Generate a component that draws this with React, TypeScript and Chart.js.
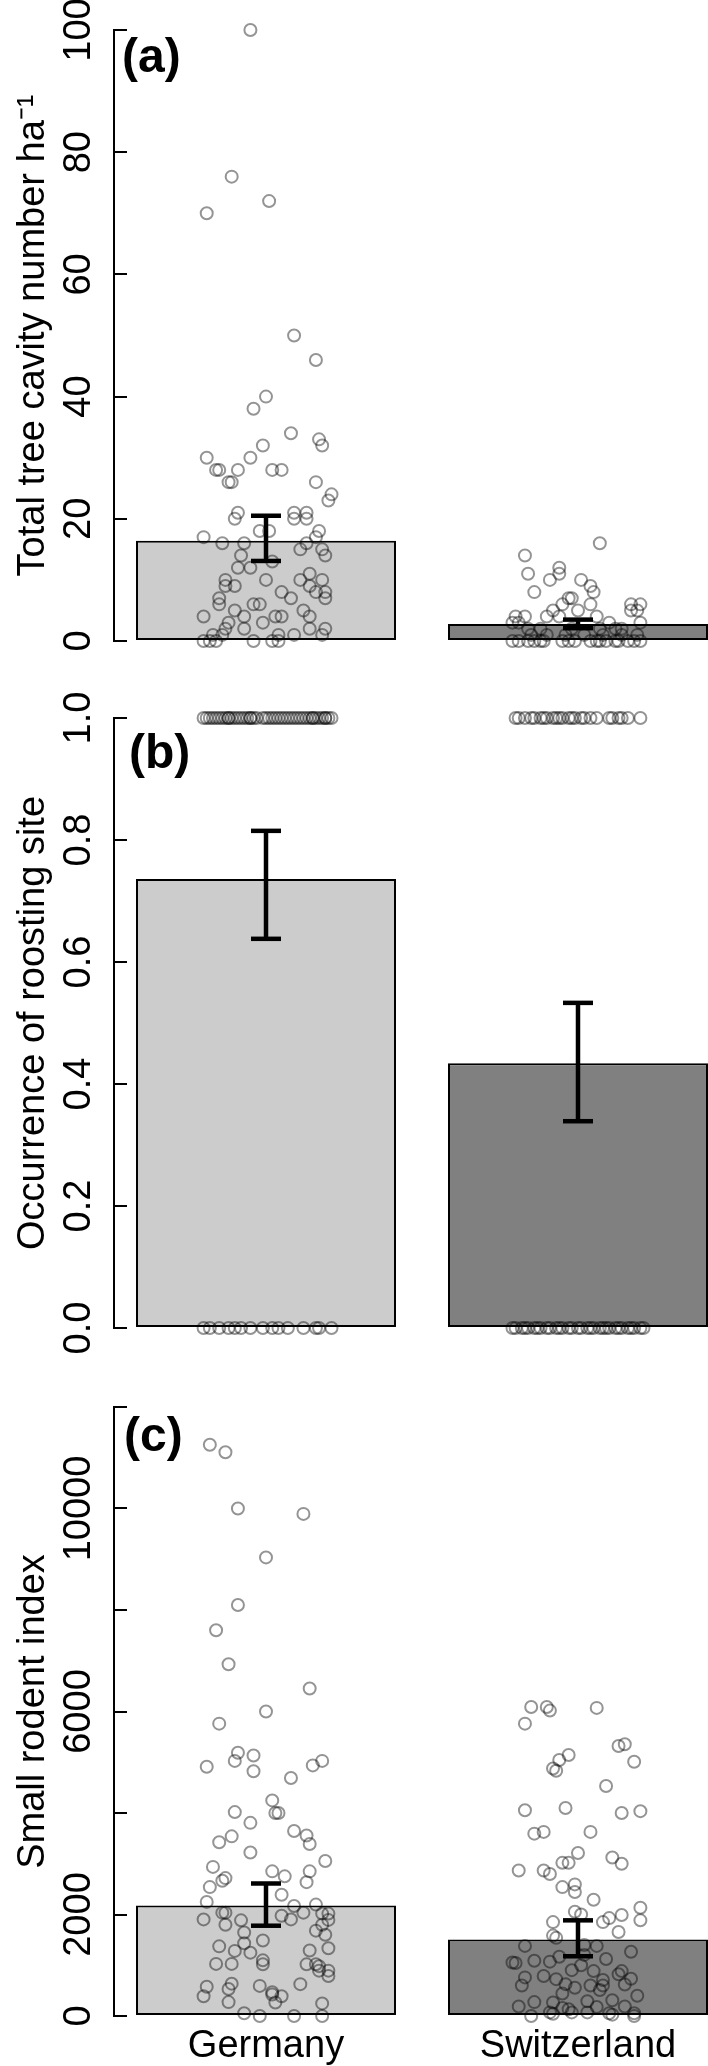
import React, { useEffect, useRef } from 'react';
import { Chart, registerables } from 'chart.js';

Chart.register(...registerables);
Chart.defaults.font.family = '"Liberation Sans", Arial, Helvetica, sans-serif';
Chart.defaults.color = '#000';

// ---------- shared ----------
const categories = ['Germany', 'Switzerland'];
const barColors = ['#cccccc', '#808080'];

// ---------- panel (a): tree cavities ----------
const cavityMeans = [16.4, 2.8];
const cavityLow = [13.1, 2.1];
const cavityHigh = [20.5, 3.5];
const cavityTicks = [0, 20, 40, 60, 80, 100];
const cavityTickLabels = ['0', '20', '40', '60', '80', '100'];
const gerCavity = [100, 76, 72, 70, 50, 46, 40, 38, 34, 33, 32, 32, 30, 30, 28, 28, 28, 28, 28, 26, 26, 26, 24, 23, 21, 21, 21, 20, 20, 20, 18, 18, 18, 17, 17, 16, 16, 16, 15, 15, 14, 14, 13, 12, 12, 11, 10, 10, 10, 10, 9, 9, 9, 8, 8, 8, 7, 7, 7, 6, 6, 6, 5, 5, 4, 4, 4, 4, 4, 3, 3, 2, 2, 2, 2, 1, 1, 1, 1, 1, 0, 0, 0, 0, 0, 0];
const gerCavityJitter = [-0.05, -0.11, 0.01, -0.19, 0.09, 0.16, 0.0, -0.04, 0.08, 0.17, 0.18, -0.01, -0.19, -0.05, -0.16, -0.15, -0.09, 0.02, 0.05, -0.12, -0.11, 0.16, 0.21, 0.2, -0.09, 0.09, 0.13, -0.1, 0.09, 0.13, -0.02, 0.01, 0.17, 0.16, -0.2, -0.14, -0.07, 0.13, 0.11, 0.18, 0.19, -0.08, 0.02, -0.09, -0.05, 0.14, -0.13, 0.0, 0.11, 0.18, -0.13, -0.1, 0.14, 0.05, 0.16, 0.19, -0.15, 0.08, 0.19, -0.15, -0.04, -0.02, -0.1, 0.12, -0.2, -0.07, 0.03, 0.05, 0.14, -0.12, -0.01, -0.13, -0.07, 0.14, 0.19, -0.17, -0.14, 0.04, 0.09, 0.18, -0.2, -0.18, -0.16, -0.04, 0.02, 0.04];
const swiCavity = [16, 14, 12, 11, 11, 10, 10, 9, 8, 8, 7, 7, 6, 6, 6, 6, 5, 5, 5, 5, 4, 4, 4, 4, 4, 3, 3, 3, 3, 2, 2, 2, 2, 2, 2, 1, 1, 1, 1, 1, 1, 1, 0, 0, 0, 0, 0, 0, 0, 0, 0, 0, 0, 0, 0, 0, 0, 0, 0, 0];
const swiCavityJitter = [0.07, -0.17, -0.06, -0.06, -0.16, -0.09, 0.01, 0.04, 0.05, -0.14, -0.02, -0.03, 0.17, 0.2, -0.05, 0.04, 0.17, 0.19, -0.08, 0.0, -0.1, -0.06, 0.06, -0.2, -0.17, 0.1, 0.2, -0.21, -0.19, -0.02, -0.12, 0.07, 0.12, -0.16, 0.14, -0.15, -0.1, -0.04, 0.02, 0.08, 0.14, 0.19, -0.21, -0.19, -0.16, -0.14, -0.12, -0.11, -0.05, -0.03, -0.01, 0.04, 0.06, 0.07, 0.09, 0.12, 0.13, 0.16, 0.18, 0.2];

// ---------- panel (b): roosting site occurrence ----------
const roostMeans = [0.736, 0.434];
const roostLow = [0.638, 0.339];
const roostHigh = [0.815, 0.533];
const roostTicks = [0, 0.2, 0.4, 0.6, 0.8, 1.0];
const roostTickLabels = ['0.0', '0.2', '0.4', '0.6', '0.8', '1.0'];
const roostOutcomes = [1, 0]; // present, absent
const gerRoostPresentJitter = [-0.2, -0.19, -0.17, -0.16, -0.15, -0.14, -0.13, -0.12, -0.11, -0.1, -0.09, -0.08, -0.07, -0.06, -0.05, -0.04, -0.03, -0.01, 0.0, 0.01, 0.02, 0.03, 0.04, 0.06, 0.07, 0.08, 0.09, 0.11, 0.12, 0.13, 0.14, 0.15, 0.16, 0.17, 0.18, 0.19, 0.2, 0.21, -0.18, -0.12, -0.05, 0.05, 0.1, 0.15, 0.19];
const gerRoostAbsentJitter = [-0.2, -0.18, -0.15, -0.12, -0.1, -0.08, -0.05, -0.01, 0.02, 0.04, 0.07, 0.12, 0.16, 0.17, 0.21];
const swiRoostPresentJitter = [-0.2, -0.19, -0.17, -0.15, -0.14, -0.12, -0.11, -0.1, -0.08, -0.07, -0.06, -0.05, -0.03, -0.02, -0.01, 0.01, 0.02, 0.04, 0.06, 0.1, 0.11, 0.13, 0.14, 0.16, 0.2];
const swiRoostAbsentJitter = [-0.21, -0.2, -0.18, -0.17, -0.16, -0.14, -0.13, -0.12, -0.1, -0.09, -0.07, -0.06, -0.05, -0.03, -0.02, 0.0, 0.01, 0.03, 0.04, 0.05, 0.07, 0.08, 0.09, 0.1, 0.12, 0.13, 0.14, 0.16, 0.17, 0.18, 0.2, 0.21];

// ---------- panel (c): small rodent index ----------
const rodentMeans = [2177, 1505];
const rodentLow = [1779, 1177];
const rodentHigh = [2611, 1885];
const rodentTicks = [0, 2000, 4000, 6000, 8000, 10000, 12000];
const rodentTickLabels = ['0', '2000', '', '6000', '', '10000', ''];
const gerRodent = [11257, 11107, 10000, 9894, 9036, 8098, 7602, 6930, 6452, 6000, 5761, 5186, 5133, 4912, 5027, 4823, 5027, 4938, 4691, 4248, 4000, 4000, 4018, 3806, 3646, 3540, 3558, 3425, 3390, 3221, 3053, 2938, 2850, 2850, 2752, 2717, 2664, 2637, 2540, 2390, 2248, 2168, 2195, 2036, 2036, 2036, 2018, 2018, 1903, 1885, 1974, 1903, 1894, 1797, 1797, 1682, 1646, 1602, 1487, 1434, 1372, 1336, 1283, 1292, 1248, 1097, 1027, 1027, 1018, 1018, 1018, 982, 894, 894, 788, 628, 637, 575, 593, 531, 469, 425, 389, 389, 265, 274, 248, 53, 0, 0, 0];
const gerRodentJitter = [-0.18, -0.13, -0.09, 0.12, 0.0, -0.09, -0.16, -0.12, 0.14, 0.0, -0.15, -0.09, -0.04, -0.19, -0.1, -0.04, 0.18, 0.15, 0.08, 0.02, 0.04, 0.03, -0.1, -0.05, 0.09, -0.11, 0.13, -0.15, 0.14, -0.05, 0.19, -0.17, 0.02, 0.14, 0.06, -0.13, -0.14, 0.13, -0.18, 0.05, -0.19, 0.09, 0.16, -0.14, -0.13, 0.12, 0.18, 0.2, -0.2, -0.08, 0.05, 0.08, 0.2, -0.13, 0.18, 0.16, -0.07, 0.19, -0.01, -0.07, -0.15, 0.2, -0.1, 0.14, -0.05, -0.01, -0.16, -0.11, 0.13, -0.01, 0.16, 0.17, 0.17, 0.2, 0.2, 0.11, -0.11, -0.19, -0.02, -0.12, 0.02, 0.02, 0.05, -0.2, 0.03, -0.12, 0.18, -0.07, -0.02, 0.09, 0.18];
const swiRodent = [6089, 6089, 6018, 6071, 5761, 5319, 5354, 5009, 5142, 5044, 4876, 4832, 4531, 4053, 4098, 4000, 4036, 3593, 3628, 3628, 3213, 3018, 3018, 3124, 3000, 2867, 2867, 2797, 2593, 2540, 2443, 2292, 2133, 2053, 2000, 1991, 1929, 1850, 1850, 1885, 1655, 1584, 1540, 1381, 1398, 1381, 1266, 1168, 1204, 1053, 1044, 1089, 1071, 1124, 1000, 903, 885, 885, 761, 788, 726, 708, 823, 735, 602, 628, 602, 602, 620, 558, 513, 443, 398, 310, 274, 265, 292, 186, 159, 133, 177, 186, 71, 44, 71, 71, 53, 27, 53, 0, 0];
const swiRodentJitter = [-0.15, -0.1, -0.09, 0.06, -0.17, 0.13, 0.15, 0.18, -0.03, -0.06, -0.08, -0.07, 0.09, -0.17, -0.04, 0.14, 0.2, -0.14, -0.11, 0.04, 0.0, -0.05, -0.03, 0.11, 0.14, -0.19, -0.11, -0.09, -0.01, -0.05, -0.01, 0.05, 0.2, -0.01, 0.01, 0.14, 0.1, 0.08, -0.08, 0.2, 0.13, -0.08, -0.07, -0.17, 0.02, 0.06, 0.17, -0.06, 0.02, -0.21, -0.2, -0.14, -0.09, 0.09, 0.01, -0.02, 0.05, 0.14, -0.17, -0.11, -0.07, 0.08, 0.13, 0.17, -0.18, -0.04, 0.04, 0.08, 0.15, -0.01, 0.07, -0.05, 0.19, 0.11, -0.14, -0.08, 0.03, -0.19, -0.05, -0.03, 0.06, 0.15, -0.09, -0.08, -0.02, 0.03, 0.1, 0.11, 0.18, 0.18, -0.15];

// ---------- chart building ----------
type Group = { vals: number[]; jit: number[] };
type PanelSpec = {
  title: string;
  letter: string;
  letterX: number;
  letterDy: number;
  means: number[];
  low: number[];
  high: number[];
  ticks: number[];
  tickLabels: string[];
  tickPad: number;
  groups: Group[][];
  padTop: number;
  padBottom: number;
  showX: boolean;
};

const letterPlugin = {
  id: 'panelLetter',
  afterDraw(chart: any, _args: any, opts: any) {
    const { ctx, chartArea } = chart;
    ctx.save();
    ctx.font = 'bold 48px "Liberation Sans", Arial, sans-serif';
    ctx.fillStyle = '#000';
    ctx.textAlign = 'left';
    ctx.textBaseline = 'alphabetic';
    ctx.fillText(opts.text, opts.x, chartArea.top + opts.dy);
    ctx.restore();
  },
};

function buildConfig(p: PanelSpec): any {
  const datasets: any[] = [];
  datasets.push({
    type: 'bar',
    data: p.means.map((v, i) => ({ x: i, y: v })),
    backgroundColor: barColors,
    borderColor: '#000',
    borderWidth: 2,
    borderSkipped: false,
    categoryPercentage: 1,
    barPercentage: 1 / 1.2,
    order: 3,
  });
  p.groups.forEach((groups, i) => {
    groups.forEach((g) => {
      datasets.push({
        type: 'scatter',
        data: g.vals.map((v, k) => ({ x: i + g.jit[k], y: v })),
        showLine: false,
        pointRadius: 6,
        pointBorderWidth: 2,
        pointBorderColor: 'rgba(0,0,0,0.42)',
        pointBackgroundColor: 'rgba(0,0,0,0)',
        clip: false,
        order: 2,
      });
    });
  });
  p.means.forEach((_, i) => {
    datasets.push({
      type: 'line',
      data: [
        { x: i, y: p.low[i] },
        { x: i, y: p.high[i] },
      ],
      borderColor: '#000',
      borderWidth: 4.5,
      pointStyle: 'line',
      pointRadius: 15,
      pointBorderWidth: 4.5,
      pointBorderColor: '#000',
      fill: false,
      clip: false,
      order: 1,
    });
  });

  return {
    type: 'bar',
    data: { datasets },
    options: {
      responsive: false,
      maintainAspectRatio: false,
      animation: false,
      devicePixelRatio: 1,
      events: [],
      layout: {
        autoPadding: false,
        padding: { top: p.padTop, bottom: p.padBottom, left: 0, right: 0 },
      },
      plugins: {
        legend: { display: false },
        tooltip: { enabled: false },
        title: { display: false },
        panelLetter: { text: p.letter, x: p.letterX, dy: p.letterDy },
      },
      scales: {
        x: {
          type: 'linear',
          min: -0.4872,
          max: 1.4167,
          offset: false,
          display: p.showX,
          grid: { display: false, drawTicks: false, offset: false },
          border: { display: false },
          afterBuildTicks: (s: any) => {
            s.ticks = categories.map((_, i) => ({ value: i }));
          },
          afterFit: (s: any) => {
            s.height = p.showX ? 50 : 0;
            s.paddingLeft = 0;
            s.paddingRight = 0;
          },
          ticks: {
            autoSkip: false,
            minRotation: 0,
            maxRotation: 0,
            padding: 8,
            color: '#000',
            font: { size: 38 },
            callback: (_v: any, i: number) => categories[i],
          },
        },
        y: {
          type: 'linear',
          min: p.ticks[0],
          max: p.ticks[p.ticks.length - 1],
          afterBuildTicks: (s: any) => {
            s.ticks = p.ticks.map((v) => ({ value: v }));
          },
          afterFit: (s: any) => {
            s.width = 114;
            s.paddingTop = 0;
            s.paddingBottom = 0;
          },
          grid: {
            display: true,
            drawOnChartArea: false,
            drawTicks: true,
            tickLength: -13,
            lineWidth: 2,
            color: '#000',
          },
          border: { display: true, color: '#000', width: 2 },
          ticks: {
            autoSkip: false,
            minRotation: 90,
            maxRotation: 90,
            crossAlign: 'center',
            padding: p.tickPad,
            color: '#000',
            font: { size: 38 },
            callback: (_v: any, i: number) => p.tickLabels[i],
          },
          title: {
            display: true,
            text: p.title,
            color: '#000',
            font: { size: 38 },
            padding: { top: 11, bottom: 0 },
          },
        },
      },
    },
    plugins: [letterPlugin],
  };
}

const panelA: PanelSpec = {
  title: 'Total tree cavity number ha\u207B\u00B9',
  letter: '(a)',
  letterX: 122,
  letterDy: 42,
  means: cavityMeans,
  low: cavityLow,
  high: cavityHigh,
  ticks: cavityTicks,
  tickLabels: cavityTickLabels,
  tickPad: 15.3,
  groups: [
    [{ vals: gerCavity, jit: gerCavityJitter }],
    [{ vals: swiCavity, jit: swiCavityJitter }],
  ],
  padTop: 30,
  padBottom: 39,
  showX: false,
};

const panelB: PanelSpec = {
  title: 'Occurrence of roosting site',
  letter: '(b)',
  letterX: 129,
  letterDy: 50,
  means: roostMeans,
  low: roostLow,
  high: roostHigh,
  ticks: roostTicks,
  tickLabels: roostTickLabels,
  tickPad: 20.6,
  groups: [
    [
      { vals: gerRoostPresentJitter.map(() => roostOutcomes[0]), jit: gerRoostPresentJitter },
      { vals: gerRoostAbsentJitter.map(() => roostOutcomes[1]), jit: gerRoostAbsentJitter },
    ],
    [
      { vals: swiRoostPresentJitter.map(() => roostOutcomes[0]), jit: swiRoostPresentJitter },
      { vals: swiRoostAbsentJitter.map(() => roostOutcomes[1]), jit: swiRoostAbsentJitter },
    ],
  ],
  padTop: 38,
  padBottom: 32,
  showX: false,
};

const panelC: PanelSpec = {
  title: 'Small rodent index',
  letter: '(c)',
  letterX: 124,
  letterDy: 44,
  means: rodentMeans,
  low: rodentLow,
  high: rodentHigh,
  ticks: rodentTicks,
  tickLabels: rodentTickLabels,
  tickPad: -5.8,
  groups: [
    [{ vals: gerRodent, jit: gerRodentJitter }],
    [{ vals: swiRodent, jit: swiRodentJitter }],
  ],
  padTop: 47,
  padBottom: 0,
  showX: true,
};

function Panel({ spec, top, height }: { spec: PanelSpec; top: number; height: number }) {
  const ref = useRef<HTMLCanvasElement | null>(null);
  useEffect(() => {
    if (!ref.current) return;
    const chart = new Chart(ref.current, buildConfig(spec));
    return () => chart.destroy();
  }, [spec]);
  return (
    <canvas
      ref={ref}
      width={708}
      height={height}
      style={{ position: 'absolute', left: 0, top, width: 708, height, display: 'block' }}
    />
  );
}

export default function App() {
  return (
    <div
      style={{
        position: 'absolute',
        left: 0,
        top: 0,
        width: 708,
        height: 2066,
        background: '#fff',
        overflow: 'hidden',
      }}
    >
      <Panel spec={panelA} top={0} height={680} />
      <Panel spec={panelB} top={680} height={680} />
      <Panel spec={panelC} top={1360} height={706} />
    </div>
  );
}
